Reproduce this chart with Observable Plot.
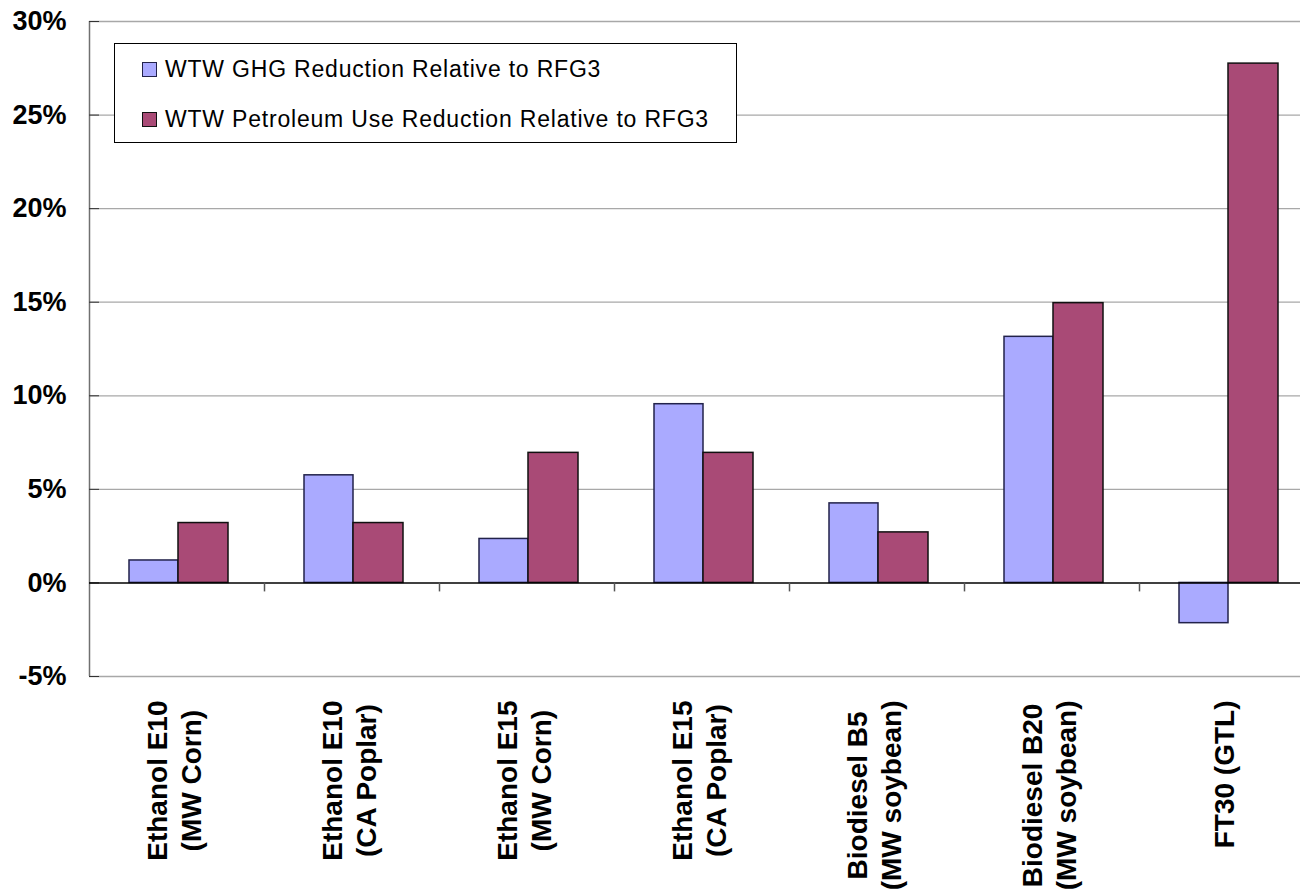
<!DOCTYPE html>
<html>
<head>
<meta charset="utf-8">
<script src="https://cdn.jsdelivr.net/npm/d3@7"></script>
<script src="https://cdn.jsdelivr.net/npm/@observablehq/plot@0.6"></script>
<style>
  html, body { margin: 0; padding: 0; background: #fff; overflow: hidden; }
  #wrap { position: relative; width: 1300px; height: 893px; overflow: hidden; }
  #wrap svg { max-width: none !important; width: 1320px !important; height: 893px !important; display: block; }
  #legend { position: absolute; left: 114px; top: 43px; width: 621px; height: 98px;
            border: 1px solid #000; background: #fff; box-sizing: content-box;
            font-family: 'Liberation Sans', Arial, sans-serif; }
  .item { position: absolute; left: 27px; height: 30px; }
  .sw { position: absolute; left: 0; width: 13px; height: 13px; border: 1px solid #222; }
  .lab { position: absolute; left: 23px; white-space: nowrap; font-size: 23px; line-height: 23px; letter-spacing: 0.8px; color: #000; }
</style>
</head>
<body>
<div id="wrap"></div>
<script>
const categories = [
  "Ethanol E10\n(MW Corn)",
  "Ethanol E10\n(CA Poplar)",
  "Ethanol E15\n(MW Corn)",
  "Ethanol E15\n(CA Poplar)",
  "Biodiesel B5\n(MW soybean)",
  "Biodiesel B20\n(MW soybean)",
  "FT30 (GTL)"
];
const ghgReduction = [1.2, 5.75, 2.35, 9.55, 4.25, 13.15, -2.15];
const petroleumReduction = [3.2, 3.2, 6.95, 6.95, 2.7, 14.95, 27.75];
const seriesNames = ["WTW GHG Reduction Relative to RFG3", "WTW Petroleum Use Reduction Relative to RFG3"];
const seriesFills = ["#AAAAFF", "#A94A76"];
const seriesStrokes = ["#22224a", "#111111"];
const yTicks = [-5, 0, 5, 10, 15, 20, 25, 30];

const ghgRows = categories.map((c, i) => ({category: c, value: ghgReduction[i]}));
const petRows = categories.map((c, i) => ({category: c, value: petroleumReduction[i]}));

const W = 1320, H = 893, mL = 89, mR = 6, mT = 21, mB = 217;
const step = (W - mL - mR) / categories.length;

const font = "'Liberation Sans', Arial, sans-serif";
const ctx = document.createElement("canvas").getContext("2d");
ctx.font = "bold 28px 'Liberation Sans'";
const longest = c => Math.max(...c.split("\n").map(s => ctx.measureText(s).width));

const labelMarks = categories.map(c => Plot.text([c], {
  x: d => d, frameAnchor: "bottom", rotate: -90,
  textAnchor: "middle", lineAnchor: "middle", lineHeight: 1.2,
  fontSize: 28, fontWeight: "bold", fill: "#000",
  dx: -4, dy: 24 + longest(c) / 2
}));

const chart = Plot.plot({
  width: W, height: H,
  marginLeft: mL, marginRight: mR, marginTop: mT, marginBottom: mB,
  style: {fontFamily: font, background: "transparent", overflow: "visible"},
  x: {domain: categories, padding: 0, axis: null},
  y: {domain: [-5, 30]},
  marks: [
    Plot.ruleY(yTicks.filter(v => v !== 0), {stroke: "#a8a8a8", strokeWidth: 1.3}),
    Plot.ruleX(categories.slice(0, 1), {x: d => d, dx: -step / 2, y1: -5, y2: 30, stroke: "#707070", strokeWidth: 1.5}),
    Plot.axisY(yTicks, {tickSize: 10, dx: 10, tickFormat: () => "", stroke: "#333", label: null}),
    Plot.axisY(yTicks, {tickSize: 0, tickPadding: 23, tickFormat: d => d + "%", fontSize: 27, fontWeight: "bold", fill: "#000", label: null}),
    Plot.barY(ghgRows, {x: "category", y: "value", fill: seriesFills[0], stroke: seriesStrokes[0], strokeWidth: 1.5, insetLeft: 40, insetRight: 86}),
    Plot.barY(petRows, {x: "category", y: "value", fill: seriesFills[1], stroke: seriesStrokes[1], strokeWidth: 1.5, insetLeft: 89, insetRight: 36}),
    Plot.ruleY([0], {stroke: "#000", strokeWidth: 1.5}),
    Plot.ruleX(categories.slice(1), {x: d => d, dx: -step / 2, y1: 0, y2: -0.48, stroke: "#555", strokeWidth: 1.5}),
    ...labelMarks
  ]
});

const wrap = document.getElementById("wrap");
wrap.appendChild(chart);

const legend = document.createElement("div");
legend.id = "legend";
seriesNames.forEach((name, i) => {
  const item = document.createElement("div");
  item.className = "item";
  item.style.top = (i === 0 ? 14 : 64) + "px";
  const sw = document.createElement("div");
  sw.className = "sw";
  sw.style.top = "4px";
  sw.style.background = seriesFills[i];
  sw.style.borderColor = seriesStrokes[i];
  const lab = document.createElement("div");
  lab.className = "lab";
  lab.style.top = "0px";
  lab.textContent = name;
  item.appendChild(sw);
  item.appendChild(lab);
  legend.appendChild(item);
});
wrap.appendChild(legend);
</script>
</body>
</html>
